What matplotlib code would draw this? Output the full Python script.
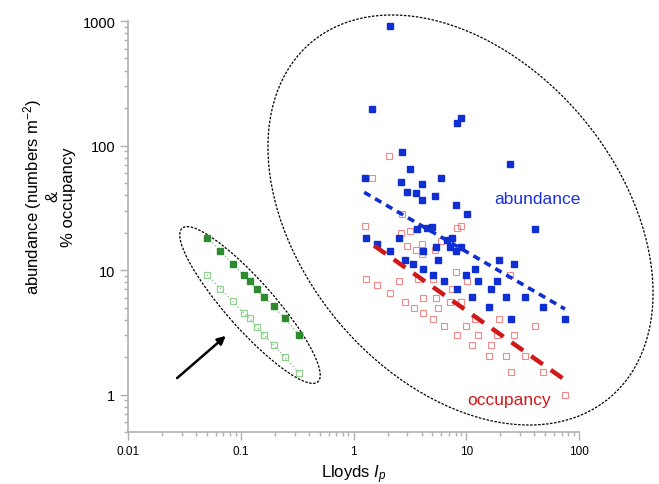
import matplotlib
matplotlib.use("Agg")
import matplotlib.pyplot as plt
from matplotlib.patches import Ellipse
from matplotlib.ticker import FixedLocator, FuncFormatter, LogLocator, NullFormatter

plt.rcParams['font.family'] = ['Liberation Sans', 'DejaVu Sans']
plt.rcParams['mathtext.fontset'] = 'custom'
plt.rcParams['mathtext.rm'] = 'Liberation Sans'
plt.rcParams['mathtext.it'] = 'Liberation Sans:italic'

# green group (left ellipse)
green_x = [0.050, 0.066, 0.085, 0.106, 0.120, 0.138, 0.161, 0.195, 0.245, 0.328]
green_filled_y = [18.2, 14.2, 11.1, 9.1, 8.1, 7.1, 6.1, 5.1, 4.1, 3.0]
green_open_y = [9.1, 7.1, 5.6, 4.5, 4.1, 3.5, 3.0, 2.5, 2.0, 1.5]

# abundance (blue filled squares)
abund_x = [2.08, 1.46, 8.95, 8.23, 2.70, 24.5, 3.15, 1.25, 2.64, 4.02,
           5.94, 2.98, 3.60, 4.02, 5.29, 8.07, 10.1, 40.4, 1.28, 1.62,
           2.11, 2.53, 3.68, 4.50, 5.00, 4.15, 5.37, 6.68, 7.47, 7.14,
           8.15, 8.92, 2.88, 3.39, 4.09, 5.62, 5.02, 6.35, 8.28, 9.94,
           12.0, 12.6, 16.4, 18.7, 19.5, 26.2, 11.2, 16.0, 22.3, 33.2,
           47.9, 25.0, 74.3]
abund_y = [915, 197, 167, 152, 89, 71.7, 64.5, 54.8, 51.4, 49.5,
           55.3, 42.5, 41.4, 36.4, 39.4, 33.1, 28.3, 21.2, 18.2, 16.2,
           14.1, 18.2, 21.3, 21.7, 22.2, 14.1, 15.2, 17.4, 18.1, 15.2,
           14.1, 15.2, 12.1, 11.1, 10.1, 12.1, 9.08, 8.13, 7.1, 9.08,
           10.1, 8.13, 7.1, 8.13, 12.1, 11.1, 6.05, 5.05, 6.05, 6.05,
           5.05, 4.06, 4.06]

# occupancy (red open squares)
occ_x = [2.07, 1.45, 2.69, 1.25, 2.62, 3.15, 8.23, 8.92, 5.89, 4.02,
         2.98, 3.57, 4.06, 5.29, 8.11, 1.28, 1.61, 2.11, 2.53, 3.69,
         5.02, 10.2, 7.47, 2.88, 3.41, 4.15, 5.37, 5.62, 4.09, 7.13,
         8.87, 5.05, 6.35, 8.28, 10.0, 12.0, 12.6, 19.4, 24.5, 11.2,
         16.5, 18.6, 26.2, 40.4, 16.0, 22.3, 33.2, 25.0, 47.9, 74.3]
occ_y = [83.1, 54.8, 28.3, 22.6, 19.8, 20.7, 21.7, 22.6, 17.2, 16.1,
         15.7, 14.6, 13.5, 14.6, 9.6, 8.54, 7.55, 6.56, 8.13, 8.54,
         8.54, 8.13, 7.07, 5.55, 5.0, 6.0, 6.0, 5.0, 4.53, 5.55,
         5.55, 4.06, 3.54, 3.03, 3.54, 4.06, 3.03, 4.04, 9.08, 2.52,
         2.52, 3.03, 3.03, 3.54, 2.03, 2.03, 2.03, 1.51, 1.51, 1.0]

# fitted lines (end points)
abund_fit_x = [1.24, 74.7]
abund_fit_y = [42.1, 4.86]
occ_fit_x = [1.52, 74.7]
occ_fit_y = [15.7, 1.31]

blue = "#0f2fd2"
red = "#d01818"

fig = plt.figure(figsize=(6.59, 4.85), dpi=100)
ax = fig.add_axes([0.1942, 0.1072, 0.6848, 0.8474])
ax.set_xscale("log")
ax.set_yscale("log")
ax.set_xlim(0.01, 100)
ax.set_ylim(0.5, 1000)

ax.plot(green_x, green_filled_y, ls=":", lw=1, color="#8fcf8f",
        marker="s", ms=5, mfc="#2f8a2f", mec="#2f8a2f")
ax.plot(green_x, green_open_y, ls=":", lw=1, color="#8fcf8f",
        marker="s", ms=5, mfc="none", mec="#8fcf8f", mew=0.9)

ax.plot(occ_x, occ_y, ls="none", marker="s", ms=4.5, mfc="none",
        mec="#f08a8a", mew=0.8)
ax.plot(abund_x, abund_y, ls="none", marker="s", ms=5, mfc=blue, mec=blue)

ax.plot(abund_fit_x, abund_fit_y, color=blue, lw=2.6, dashes=(2.0, 1.5),
        solid_capstyle="butt")
ax.plot(occ_fit_x, occ_fit_y, color=red, lw=3.2, dashes=(3.2, 2.2),
        solid_capstyle="butt")

ax.text(42.4, 37.7, "abundance", color="#1a30e0", fontsize=12.5,
        ha="center", va="center")
ax.text(23.9, 0.92, "occupancy", color=red, fontsize=12.5,
        ha="center", va="center")

# dotted ellipses drawn in figure inches so they stay round
big = Ellipse((4.605, 2.64), 4.64, 3.18, angle=-50, fill=False,
              ec="black", lw=0.9, ls=(0, (2, 1.2)),
              transform=fig.dpi_scale_trans, clip_on=False)
small = Ellipse((2.50, 1.79), 2.05, 0.48, angle=-48.5, fill=False,
                ec="black", lw=0.9, ls=(0, (2, 1.2)),
                transform=fig.dpi_scale_trans, clip_on=False)
ax.add_patch(big)
ax.add_patch(small)

ax.annotate("", xy=(0.0769, 3.06), xytext=(0.0261, 1.31),
            arrowprops=dict(arrowstyle="-|>", color="black", lw=1.8,
                            mutation_scale=12))

for s in ["top", "right"]:
    ax.spines[s].set_visible(False)
for s in ["left", "bottom"]:
    ax.spines[s].set_color("#b0b0b0")
    ax.spines[s].set_linewidth(1.2)

ax.yaxis.set_major_locator(FixedLocator([1, 10, 100, 1000]))
ax.yaxis.set_minor_locator(LogLocator(base=10, subs=range(2, 10)))
ax.yaxis.set_minor_formatter(NullFormatter())
ax.yaxis.set_major_formatter(FuncFormatter(lambda v, p: "%g" % v))
ax.xaxis.set_major_locator(FixedLocator([0.01, 0.1, 1, 10, 100]))
ax.xaxis.set_minor_locator(LogLocator(base=10, subs=range(2, 10)))
ax.xaxis.set_minor_formatter(NullFormatter())
ax.xaxis.set_major_formatter(FuncFormatter(lambda v, p: "%g" % v))

ax.tick_params(which="major", length=6, width=1, color="#b0b0b0", pad=3)
ax.tick_params(which="minor", length=3, width=1, color="#b0b0b0")
ax.tick_params(axis="y", labelsize=10.5)
ax.tick_params(axis="x", labelsize=8.5)

ax.set_ylabel("abundance (numbers m$^{-2}$)\n&\n% occupancy", fontsize=12,
              linespacing=1.1)
ax.yaxis.set_label_coords(-0.115, 0.575)
ax.set_xlabel("Lloyds $\\mathit{I}_{p}$", fontsize=12, labelpad=4)

fig.savefig("out.png", dpi=100)
